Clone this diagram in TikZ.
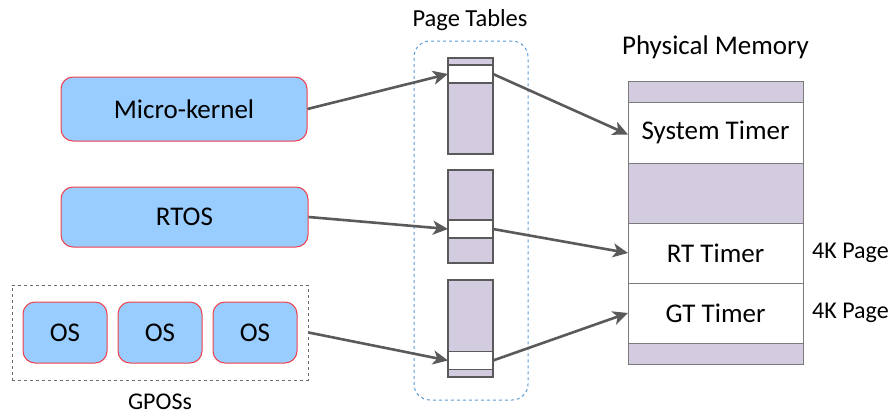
\documentclass[tikz,border=0pt]{standalone}
\usepackage{fontspec}
\setmainfont{Carlito}
\usetikzlibrary{arrows.meta,positioning}

\definecolor{osblue}{HTML}{99CCFF}
\definecolor{osred}{HTML}{F0404A}
\definecolor{pagepurple}{HTML}{D3CCE0}
\definecolor{linegray}{HTML}{5A5A5A}
\definecolor{ptblue}{HTML}{5B9BD5}

\begin{document}
\begin{tikzpicture}[
  x=1pt, y=-1pt,
  font=\fontsize{27}{31}\selectfont,
  node distance=0pt,
  osbox/.style={draw=osred, fill=osblue, line width=1pt,
                rounded corners=12pt, inner sep=0pt},
  pgcol/.style={draw=linegray, fill=pagepurple, line width=1.6pt,
                minimum width=45pt, inner sep=0pt, outer sep=0pt},
  slot/.style={draw=linegray, fill=white, line width=1.6pt,
               minimum width=45pt, minimum height=18pt, inner sep=0pt, outer sep=0pt},
  memrow/.style={draw=linegray!80, line width=1pt, minimum width=175pt,
                 inner sep=0pt, outer sep=0pt},
  lbl/.style={font=\fontsize{24}{28}\selectfont, inner sep=0pt},
  arr/.style={draw=linegray, line width=2.6pt,
              -{Stealth[length=15pt, width=14pt, inset=4pt]}}
]
  \useasboundingbox (0,0) rectangle (891,415);

  % guest systems
  \node[osbox, minimum width=246pt, minimum height=64pt] (mk) at (184,109) {Micro-kernel};
  \node[osbox, minimum width=247pt, minimum height=60pt] (rtos) at (184.5,217) {RTOS};
  \node[osbox, minimum width=84pt, minimum height=61pt] (os1) at (65,332.5) {OS};
  \node[osbox, minimum width=84pt, minimum height=61pt] (os2) at (160,332.5) {OS};
  \node[osbox, minimum width=84pt, minimum height=61pt] (os3) at (255,332.5) {OS};
  \node[draw=linegray!90, dashed, line width=1pt, minimum width=296pt,
        minimum height=95pt, inner sep=0pt] (gpos) at (160,332.5) {};
  \node[lbl] (gposlbl) at (160,402) {GPOSs};

  % page tables
  \node[draw=ptblue, dashed, line width=1pt, rounded corners=16pt,
        minimum width=114pt, minimum height=359pt, inner sep=0pt] (pt) at (471,220.5) {};
  \node[lbl, font=\fontsize{24.5}{28}\selectfont] (ptlbl) at (470,20) {Page Tables};

  \node[pgcol, minimum height=96pt] (pt1) at (470.5,106) {};
  \node[slot] (slot1) at (470.5,74) {};
  \node[pgcol, minimum height=93pt] (pt2) at (470.5,216.5) {};
  \node[slot] (slot2) at (470.5,229) {};
  \node[pgcol, minimum height=97pt] (pt3) at (470.5,328.5) {};
  \node[slot] (slot3) at (470.5,360.5) {};

  % physical memory
  \node[lbl, font=\fontsize{27}{31}\selectfont] (memlbl) at (715.5,47) {Physical Memory};
  \node[memrow, fill=pagepurple, minimum height=21pt] (m0) at (715.5,91.5) {};
  \node[memrow, fill=white, minimum height=61pt, below=of m0] (msys) {System Timer};
  \node[memrow, fill=pagepurple, minimum height=60pt, below=of msys] (m1) {};
  \node[memrow, fill=white, minimum height=60pt, below=of m1] (mrt) {RT Timer};
  \node[memrow, fill=white, minimum height=60pt, below=of mrt] (mgt) {GT Timer};
  \node[memrow, fill=pagepurple, minimum height=21pt, below=of mgt] (m2) {};
  \node[lbl, right=9pt of mrt] (rtpage) {4K Page};
  \node[lbl, right=9pt of mgt] (gtpage) {4K Page};

  % mappings
  \draw[arr] (mk.east) -- (slot1.west);
  \draw[arr] (slot1.east) -- ([yshift=-2pt]msys.west);
  \draw[arr] (rtos.east) -- (slot2.west);
  \draw[arr] (slot2.east) -- (mrt.west);
  \draw[arr] (gpos.east) -- (slot3.west);
  \draw[arr] (slot3.east) -- (mgt.west);
\end{tikzpicture}
\end{document}
